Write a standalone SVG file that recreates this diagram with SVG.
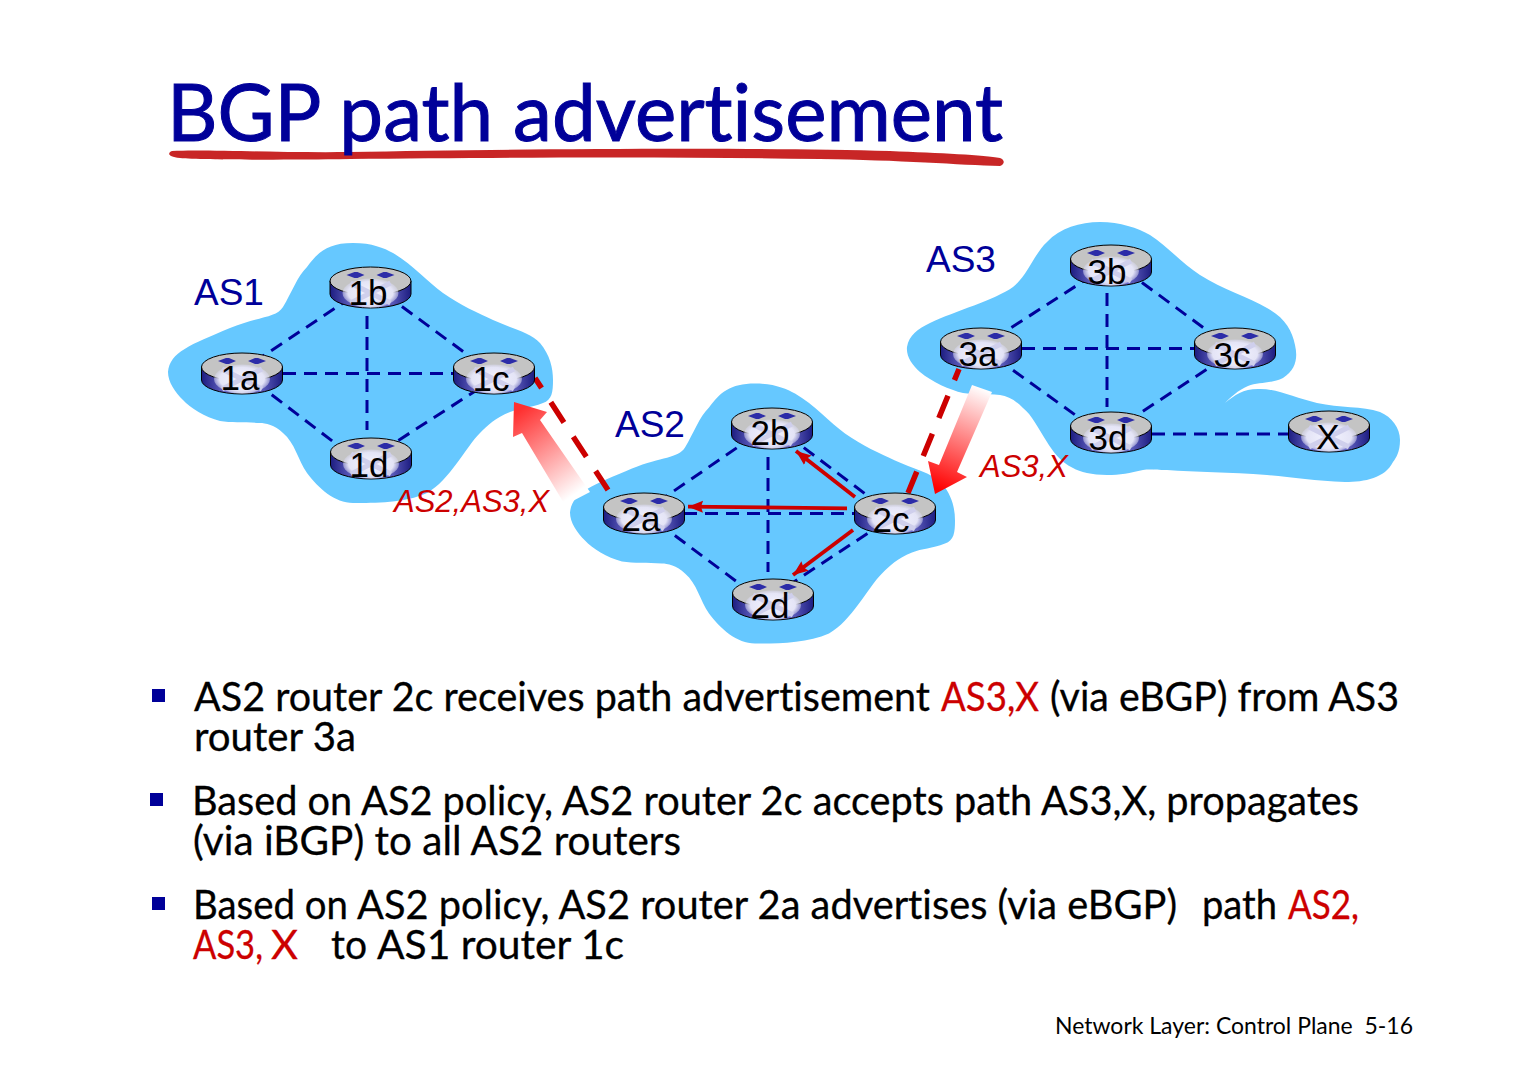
<svg xmlns="http://www.w3.org/2000/svg" width="1526" height="1070" viewBox="0 0 1526 1070">
<style>
.blob{fill:#66c8ff}
.lk{stroke:#000099;stroke-width:3;stroke-dasharray:13 8;fill:none}
.eb{stroke:#cc0000;stroke-width:5.500;stroke-dasharray:12 17 24 17 24 17 24;fill:none}
.ib{stroke:#cc0000;stroke-width:3.800;fill:none;marker-end:url(#ah)}
.as{font:37px "Liberation Sans",Arial,sans-serif;fill:#000099}
.rl{font:35px "Liberation Sans",Arial,sans-serif;fill:#000;text-anchor:middle}
.pl{font:italic 31px "Liberation Sans",Arial,sans-serif;fill:#cc0000}
.b{font:40px Lato,"Open Sans",sans-serif;font-variant-ligatures:none;fill:#000;stroke:#000;stroke-width:.3}
.r{fill:#cc0000;stroke:#cc0000}
.bu{fill:#000099}
.t{font:79px Lato,"Open Sans",sans-serif;font-variant-ligatures:none;fill:#000099;stroke:#000099;stroke-width:1}
.f{font:24px Lato,"Open Sans",sans-serif;font-variant-ligatures:none;fill:#000}
</style>
<defs>
<filter id="soft" x="-2%" y="-50%" width="104%" height="200%"><feGaussianBlur stdDeviation=".7"/></filter>
<linearGradient id="g1" gradientUnits="userSpaceOnUse" x1="578" y1="492" x2="520" y2="410"><stop offset="0" stop-color="#fff"/><stop offset="1" stop-color="#ff3030"/></linearGradient>
<linearGradient id="g2" gradientUnits="userSpaceOnUse" x1="982" y1="388" x2="940" y2="490"><stop offset="0" stop-color="#fff"/><stop offset="1" stop-color="#ff0000"/></linearGradient>
<linearGradient id="side" x1="0" x2="1" y1="0" y2="0"><stop offset="0" stop-color="#1c1c80"/><stop offset=".3" stop-color="#6a6ac8"/><stop offset=".5" stop-color="#dcdcf4"/><stop offset=".7" stop-color="#6a6ac8"/><stop offset="1" stop-color="#1c1c80"/></linearGradient>
<radialGradient id="glow"><stop offset="0" stop-color="#f4f4ff"/><stop offset=".8" stop-color="#e4e4f6"/><stop offset="1" stop-color="#d8d8ee" stop-opacity=".5"/></radialGradient>
<marker id="ah" markerUnits="userSpaceOnUse" markerWidth="18" markerHeight="14" refX="15" refY="7" orient="auto"><path d="M0 1L15 7L0 13L2 7Z" fill="#cc0000"/></marker>
<path id="cloud" d="M168 372C170 352 190 345 230 328C260 316 276 318 283 307C292 292 297 277 307 267C318 252 328 243 353 243C372 243 384 248 393 253C412 264 428 282 443 293C460 305 478 313 493 320C510 328 530 332 540 343C550 355 553 368 553 380C553 392 552 400 543 403C530 408 520 408 510 412C495 418 488 425 480 433C465 448 450 480 427 493C405 503 375 503 353 503C335 503 318 488 307 473C298 460 295 443 283 433C275 425 265 423 260 423C245 422 232 423 220 421C205 417 190 408 183 400C175 392 168 382 168 372Z"/>
<g id="rt">
<path d="M-40.500 0V13A40.500 14 0 0 0 40.500 13V0Z" fill="url(#side)" stroke="#000" stroke-width="1"/>
<ellipse cx="0" cy="0" rx="40.500" ry="14" fill="#c4c4c4" stroke="#000" stroke-width="1"/>
<ellipse cx="0" cy="12" rx="28" ry="14.500" fill="url(#glow)"/>
<path d="M-20 2L20 22M20 2L-20 22" stroke="#cfcfec" stroke-width="5" fill="none"/>
<path d="M-24-6L-16-9H-13L-6-6L-13-3H-16ZM6-6L13-9H16L24-6L16-3H13Z" fill="#2c2ca8"/>
</g>
</defs>

<g id="as1-cloud"><use href="#cloud" class="blob"/></g>
<g id="as2-cloud"><use href="#cloud" class="blob" transform="translate(402 140.500)"/></g>
<g id="as3-cloud"><path class="blob" d="M907 347C909 335 918 329 930 323C955 311 995 300 1013 287C1028 275 1034 254 1047 242C1060 228 1080 222 1100 222C1120 222 1138 228 1150 235C1168 247 1183 264 1200 275C1222 289 1250 298 1267 308C1285 318 1292 330 1295 345C1298 358 1296 370 1283 378C1270 384 1258 382 1248 386C1238 390 1230 398 1225 403C1235 395 1243 389 1258 389C1275 388 1295 398 1317 403C1340 408 1362 406 1380 412C1392 417 1400 428 1400 440C1400 452 1396 458 1393 462C1385 478 1365 482 1345 482C1315 481 1290 477 1267 475C1230 472 1195 472 1167 470C1155 470 1150 469 1143 470C1130 473 1120 475 1107 475C1092 475 1080 472 1073 468C1060 462 1052 450 1047 442C1038 428 1032 415 1023 408C1015 400 1008 396 1000 395C985 393 975 395 963 393C950 390 932 382 920 372C912 365 906 356 907 347Z"/></g>

<g id="connectors">
<path class="lk" d="M352 297L248 366M385 294L480 364M255 382L352 456M480 388L385 449M283 373.500H453M367 316V430"/>
<path class="lk" d="M754 436L652 506M787 435L880 505M658 523L752 593M885 522L783 589M684 513.500H855M768 457V572"/>
<path class="lk" d="M1093 275L992 340M1125 270L1220 340M996 358L1092 427M1224 358L1125 423M1022 348.500H1194M1107 293V407M1152 434H1288"/>
<path d="M590 492L565 505L522 433L513 437L514 402L547 412L540 420Z" fill="url(#g1)"/>
<path d="M972 385L992 392L957 472L967 477L935 494L928 461L939 465Z" fill="url(#g2)"/>
<path class="eb" d="M535 378L608 490"/>
<path class="eb" d="M959 369L908 493"/>
<path class="ib" d="M855 497L796 451"/>
<path class="ib" d="M847 508.300L688 506.700"/>
<path class="ib" d="M853 530L793 575"/>
</g>

<g id="r1a"><use href="#rt" x="242" y="367"/><text class="rl" x="240" y="390">1a</text></g>
<g id="r1b"><use href="#rt" x="370.500" y="281"/><text class="rl" x="368" y="305">1b</text></g>
<g id="r1c"><use href="#rt" x="494" y="367"/><text class="rl" x="491" y="391">1c</text></g>
<g id="r1d"><use href="#rt" x="371" y="452"/><text class="rl" x="369" y="477">1d</text></g>
<g id="r2a"><use href="#rt" x="644" y="507"/><text class="rl" x="641" y="531">2a</text></g>
<g id="r2b"><use href="#rt" x="772" y="422"/><text class="rl" x="770" y="445">2b</text></g>
<g id="r2c"><use href="#rt" x="895" y="507"/><text class="rl" x="891" y="532">2c</text></g>
<g id="r2d"><use href="#rt" x="773" y="593"/><text class="rl" x="770" y="618">2d</text></g>
<g id="r3a"><use href="#rt" x="981" y="342"/><text class="rl" x="978" y="366">3a</text></g>
<g id="r3b"><use href="#rt" x="1111" y="259"/><text class="rl" x="1107" y="284">3b</text></g>
<g id="r3c"><use href="#rt" x="1235" y="342"/><text class="rl" x="1232" y="367">3c</text></g>
<g id="r3d"><use href="#rt" x="1111" y="426"/><text class="rl" x="1108" y="450">3d</text></g>
<g id="rX"><use href="#rt" x="1329" y="425"/><text class="rl" x="1328" y="449">X</text></g>

<g id="labels">
<text class="as" x="194" y="305">AS1</text>
<text class="as" x="615" y="437">AS2</text>
<text class="as" x="926" y="272">AS3</text>
<text class="pl" x="394" y="512">AS2,AS3,X</text>
<text class="pl" x="980" y="477">AS3,X</text>
</g>

<g id="title">
<path filter="url(#soft)" d="M172 151C200 149 280 153 350 152C500 149 760 147 890 151C940 153 985 155 1000 158C1005 160 1005 164 1000 166C960 165 900 160 820 159C640 156 480 158 350 159C280 160 200 160 180 158C168 157 167 153 172 151Z" fill="#c82828"/>
<text class="t" x="167" y="141" textLength="836" lengthAdjust="spacingAndGlyphs">BGP path advertisement</text>
</g>

<g id="body">
<rect class="bu" x="152" y="689" width="13" height="13"/>
<rect class="bu" x="150" y="793" width="13" height="13"/>
<rect class="bu" x="152" y="897" width="13" height="13"/>
<text class="b" x="194" y="711" textLength="736" lengthAdjust="spacingAndGlyphs">AS2 router 2c receives path advertisement</text>
<text class="b r" x="941" y="711" textLength="98" lengthAdjust="spacingAndGlyphs">AS3,X</text>
<text class="b" x="1050" y="711" textLength="349" lengthAdjust="spacingAndGlyphs">(via eBGP) from AS3</text>
<text class="b" x="194" y="751" textLength="162" lengthAdjust="spacingAndGlyphs">router 3a</text>
<text class="b" x="192" y="815" textLength="1167" lengthAdjust="spacingAndGlyphs">Based on AS2 policy, AS2 router 2c accepts path AS3,X, propagates</text>
<text class="b" x="193" y="855" textLength="488" lengthAdjust="spacingAndGlyphs">(via iBGP) to all AS2 routers</text>
<text class="b" x="193" y="919" textLength="155" lengthAdjust="spacingAndGlyphs">Based on</text>
<text class="b" x="357" y="919" textLength="820" lengthAdjust="spacingAndGlyphs">AS2 policy, AS2 router 2a advertises (via eBGP)</text>
<text class="b" x="1202" y="919" textLength="75" lengthAdjust="spacingAndGlyphs">path</text>
<text class="b r" x="1288" y="919" textLength="71" lengthAdjust="spacingAndGlyphs">AS2,</text>
<text class="b r" x="193" y="959" textLength="70" lengthAdjust="spacingAndGlyphs">AS3,</text>
<text class="b r" x="271" y="959" textLength="27" lengthAdjust="spacingAndGlyphs">X</text>
<text class="b" x="331" y="959" textLength="36" lengthAdjust="spacingAndGlyphs">to</text>
<text class="b" x="377" y="959" textLength="247" lengthAdjust="spacingAndGlyphs">AS1 router 1c</text>
<text class="f" x="1055" y="1034" textLength="358" lengthAdjust="spacingAndGlyphs" xml:space="preserve">Network Layer: Control Plane  5-16</text>
</g>
</svg>
